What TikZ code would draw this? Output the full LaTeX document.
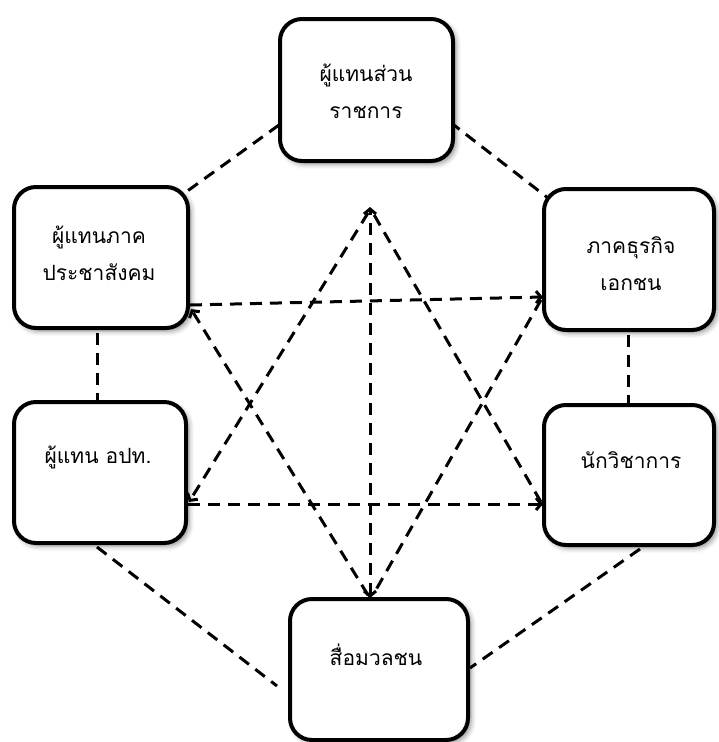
\documentclass[tikz,border=0pt]{standalone}
\usepackage{fontspec}
\newfontfamily\thaifont[Script=Thai]{Loma}
\usetikzlibrary{arrows.meta,shadows.blur,backgrounds}

\tikzset{
  party/.style={draw=black, line width=4pt, rounded corners=22pt, fill=white,
    blur shadow={shadow xshift=3pt, shadow yshift=-3pt, shadow blur radius=5pt, shadow opacity=45},
    inner sep=0pt},
  partytext/.style={font=\thaifont\fontsize{21}{37}\selectfont, align=center, inner sep=0pt},
  link/.style={line width=3pt, dash pattern=on 12pt off 8pt},
  tip/.style={-{Straight Barb[length=5pt,width=12pt]}},
  bothtips/.style={{Straight Barb[length=5pt,width=12pt]}-{Straight Barb[length=5pt,width=12pt]}}
}

\begin{document}
\begin{tikzpicture}[x=1pt, y=-1pt]
  \useasboundingbox (0,0) rectangle (718,742);

  % the six stakeholder boxes
  \node[party, minimum width=173pt, minimum height=142pt] (gov)   at (366.5,90)  {};
  \node[party, minimum width=174pt, minimum height=141pt] (civil) at (101,257.5) {};
  \node[party, minimum width=170pt, minimum height=141pt] (biz)   at (629,259.5) {};
  \node[party, minimum width=172pt, minimum height=141pt] (local) at (100,472.5) {};
  \node[party, minimum width=170pt, minimum height=140pt] (acad)  at (629,475)   {};
  \node[party, minimum width=178pt, minimum height=141pt] (media) at (379,669.5) {};

  % labels
  \node[partytext] (tgov)   at (366,91.5) {ผู้แทนส่วน\\ราชการ};
  \node[partytext] (tcivil) at (99,253.5) {ผู้แทนภาค\\ประชาสังคม};
  \node[partytext] (tbiz)   at (631,264)  {ภาคธุรกิจ\\เอกชน};
  \node[partytext] (tlocal) at (98,457)   {ผู้แทน อปท.};
  \node[partytext] (tacad)  at (631,460)  {นักวิชาการ};
  \node[partytext] (tmedia) at (376,655)  {สื่อมวลชน};

  % end points of the connectors
  \coordinate (apex)   at (370,207);
  \coordinate (bottom) at (370,598);
  \coordinate (civR)   at (190,305);
  \coordinate (civRd)  at (191,309);
  \coordinate (bizL)   at (543,297);
  \coordinate (bizLd)  at (541,300);
  \coordinate (locR)   at (188,504);
  \coordinate (locRu)  at (189,502);
  \coordinate (acaL)   at (543,504);
  \coordinate (acaLu)  at (541,502);
  \coordinate (govL)   at (279,125);
  \coordinate (civT)   at (186,192);
  \coordinate (govR)   at (450,122);
  \coordinate (bizT)   at (548,198);
  \coordinate (civB)   at (97,333);
  \coordinate (locT)   at (97,402);
  \coordinate (bizB)   at (628,335);
  \coordinate (acaT)   at (628,405);
  \coordinate (locB)   at (97,547);
  \coordinate (medL)   at (277,686);
  \coordinate (acaB)   at (640,549);
  \coordinate (medR)   at (470,668);

  \begin{scope}[on background layer]
    % outer ring
    \draw[link] (govL) -- (civT);
    \draw[link] (govR) -- (bizT);
    \draw[link] (civB) -- (locT);
    \draw[link] (bizB) -- (acaT);
    \draw[link] (locB) -- (medL);
    \draw[link] (acaB) -- (medR);
  \end{scope}

  % inner star
  \draw[link, bothtips] (bottom) -- (apex);
  \draw[link, tip] (civR) -- (bizL);
  \draw[link, tip] (locR) -- (acaL);
  \draw[link, tip] (368,595) -- (civRd);
  \draw[link] (bizLd) -- (373,595);
  \draw[link, tip] (368,213) -- (locRu);
  \draw[link] (acaLu) -- (373,213);
\end{tikzpicture}
\end{document}
